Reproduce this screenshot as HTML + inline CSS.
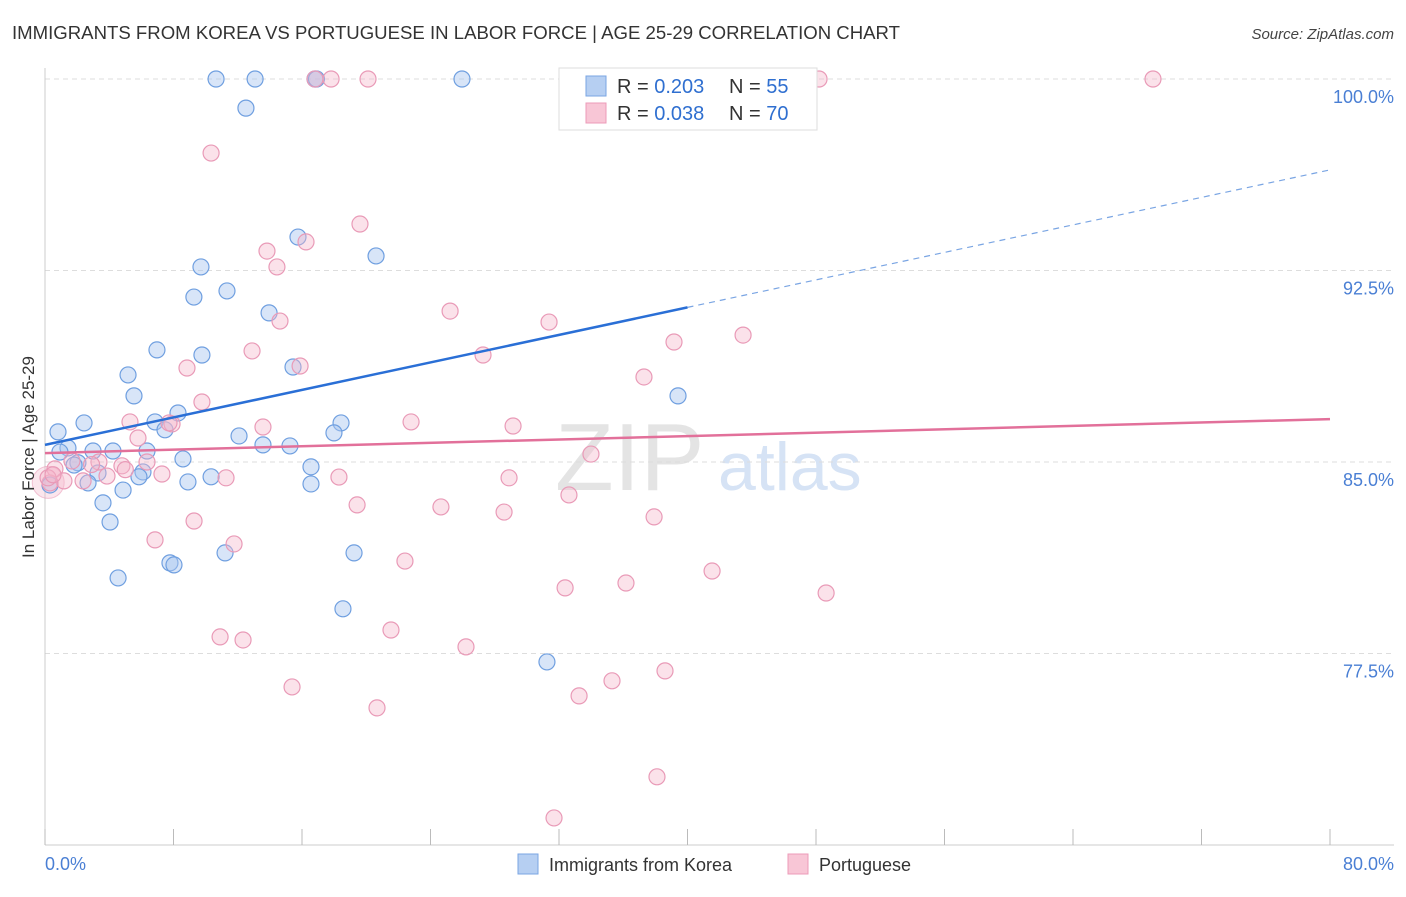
<!DOCTYPE html>
<html><head><meta charset="utf-8"><style>
body{margin:0;background:#fff;font-family:"Liberation Sans",sans-serif;}
svg text{font-family:"Liberation Sans",sans-serif;}
</style></head><body>
<svg id="chart" width="1406" height="892" xmlns="http://www.w3.org/2000/svg">
<text x="12" y="39" font-size="18" fill="#333" textLength="888" lengthAdjust="spacingAndGlyphs">IMMIGRANTS FROM KOREA VS PORTUGUESE IN LABOR FORCE | AGE 25-29 CORRELATION CHART</text>
<text x="1394" y="39" font-size="15" fill="#444" text-anchor="end" font-style="italic">Source: ZipAtlas.com</text>
<text x="555" y="490" font-size="96" fill="#e4e4e4" font-family="Liberation Serif">ZIP</text>
<text x="718" y="490" font-size="68" fill="#d6e3f5">atlas</text>
<g id="grid"></g>
<g id="axes"></g>
<g id="marks"></g>
<text transform="translate(34,457) rotate(-90)" font-size="17" fill="#333" text-anchor="middle">In Labor Force | Age 25-29</text>
<text x="45" y="870" font-size="18" fill="#4a7fd4">0.0%</text>
<text x="1394" y="870" font-size="18" fill="#4a7fd4" text-anchor="end">80.0%</text>
<g>
<rect x="559" y="68" width="258" height="62" fill="#fff" stroke="#ddd"/>
<rect x="586" y="76" width="20" height="20" fill="#b6cff2" stroke="#7aa5e3"/>
<rect x="586" y="103" width="20" height="20" fill="#f8c6d6" stroke="#ec9bb8"/>
<text x="617" y="93" font-size="20" fill="#333">R = <tspan fill="#2f6fd0">0.203</tspan></text>
<text x="729" y="93" font-size="20" fill="#333">N = <tspan fill="#2f6fd0">55</tspan></text>
<text x="617" y="120" font-size="20" fill="#333">R = <tspan fill="#2f6fd0">0.038</tspan></text>
<text x="729" y="120" font-size="20" fill="#333">N = <tspan fill="#2f6fd0">70</tspan></text>
</g>
<g>
<rect x="518" y="854" width="20" height="20" fill="#b6cff2" stroke="#7aa5e3"/>
<text x="549" y="871" font-size="18" fill="#333">Immigrants from Korea</text>
<rect x="788" y="854" width="20" height="20" fill="#f8c6d6" stroke="#ec9bb8"/>
<text x="819" y="871" font-size="18" fill="#333">Portuguese</text>
</g>
</svg>
<script>
const koreaX=[10.65,13.08,16.81,25.96,12.51,15.75,20.61,9.71,11.33,9.27,13.95,6.97,9.77,15.44,5.17,5.54,39.41,8.28,2.43,6.85,18.43,0.81,7.47,12.08,17.99,1.43,2.99,4.23,6.35,13.57,15.25,8.59,2.05,16.56,3.30,6.10,5.85,10.34,2.68,8.90,16.56,4.86,3.61,4.05,19.24,11.21,7.78,8.03,4.55,18.55,31.25,0.31,0.93,1.81,16.9];
const koreaY=[100,100,100,100,98.86,93.81,93.07,92.64,91.70,91.46,90.84,89.39,89.19,88.72,88.41,87.59,87.59,86.92,86.53,86.57,86.53,86.18,86.26,86.02,86.14,85.55,85.43,85.43,85.43,85.67,85.63,85.12,84.97,84.81,84.57,84.61,84.42,84.42,84.18,84.22,84.14,83.90,83.40,82.65,81.44,81.44,81.05,80.97,80.46,79.25,77.17,84.10,85.39,84.88,100];
const portX=[16.81,17.81,20.11,48.19,68.98,10.34,19.61,13.82,16.25,14.44,25.22,14.63,31.38,43.46,39.16,12.89,27.27,8.84,15.88,37.29,9.77,5.29,7.91,22.79,29.14,13.57,5.79,7.72,33.99,1.68,3.36,4.79,6.35,7.28,11.27,18.30,28.89,0.62,1.18,3.86,2.37,32.62,19.43,24.65,28.58,37.92,9.28,6.85,11.77,22.41,41.53,32.38,36.17,48.63,10.90,12.33,21.54,26.21,38.60,35.30,15.38,33.25,20.67,38.10,31.69,0.31,0.19,0.5,2.9,5.0];
const portY=[100,100,100,100,100,97.10,94.32,93.26,93.62,92.64,90.91,90.52,90.48,89.97,89.70,89.35,89.19,88.68,88.76,88.33,87.35,86.57,86.49,86.57,86.41,86.37,85.94,86.53,85.31,85.04,85.00,84.85,85.00,84.53,84.38,84.41,84.38,84.73,84.26,84.45,84.26,83.71,83.32,83.24,83.04,82.85,82.69,81.95,81.79,81.12,80.73,80.07,80.26,79.87,78.15,78.03,78.42,77.76,76.82,76.43,76.19,75.84,75.37,72.67,71.06,84.18,84.38,84.5,84.9,84.7];
const koreaLine=[85.67,96.44];
const portLine=[85.35,86.68];
const yTicks=[100,92.5,85,77.5];
const yTickLabels=["100.0%","92.5%","85.0%","77.5%"];
const xTicks=[0,8,16,24,32,40,48,56,64,72,80];
const NS="http://www.w3.org/2000/svg";
const sx=v=>45+v/80*1285;
const sy=v=>79+(100-v)/7.5*191.5;
function mk(tag,attrs,parent){const e=document.createElementNS(NS,tag);for(const k in attrs)e.setAttribute(k,attrs[k]);parent.appendChild(e);return e;}
const grid=document.getElementById('grid'),axes=document.getElementById('axes'),marks=document.getElementById('marks');
yTicks.forEach((t,i)=>{
 const l=mk('line',{x1:45,x2:1394,y1:sy(t),y2:sy(t),stroke:'#ddd','stroke-dasharray':'5,4'},grid);
 
 
 const tx=mk('text',{x:1394,y:sy(t)+24,'font-size':18,fill:'#4a7fd4','text-anchor':'end'},grid);
 tx.textContent=yTickLabels[i];
 
 
});
const xa=mk('line',{x1:45,x2:1394,y1:845,y2:845,stroke:'#ccc'},axes);


const ya=mk('line',{x1:45,x2:45,y1:68,y2:845,stroke:'#ccc'},axes);


xTicks.forEach(t=>{
 const l=mk('line',{x1:sx(t),x2:sx(t),y1:829,y2:845,stroke:'#bbb'},axes);
 
 
});
const b1=mk('circle',{cx:sx(0.2),cy:sy(84.2),r:16,fill:'rgba(244,182,203,0.35)',stroke:'rgba(232,143,176,0.5)'},marks);


koreaX.forEach((x,i)=>{
 const c=mk('circle',{cx:sx(x),cy:sy(koreaY[i]),r:8,fill:'rgba(169,198,239,0.45)',stroke:'#6f9fe0','stroke-width':1.2},marks);
 
 
});
portX.forEach((x,i)=>{
 const c=mk('circle',{cx:sx(x),cy:sy(portY[i]),r:8,fill:'rgba(244,182,203,0.4)',stroke:'#e99ab7','stroke-width':1.2},marks);
 
 
});
const kAt=x=>koreaLine[0]+(koreaLine[1]-koreaLine[0])*x/80;
const l1=mk('line',{x1:sx(0),y1:sy(kAt(0)),x2:sx(40),y2:sy(kAt(40)),stroke:'#2a6fd6','stroke-width':2.5},marks);


const l2=mk('line',{x1:sx(40),y1:sy(kAt(40)),x2:sx(80),y2:sy(kAt(80)),stroke:'#7aa5e3','stroke-width':1.2,'stroke-dasharray':'6,5'},marks);


const l3=mk('line',{x1:sx(0),y1:sy(portLine[0]),x2:sx(80),y2:sy(portLine[1]),stroke:'#e2709a','stroke-width':2.5},marks);


</script>
</body></html>
